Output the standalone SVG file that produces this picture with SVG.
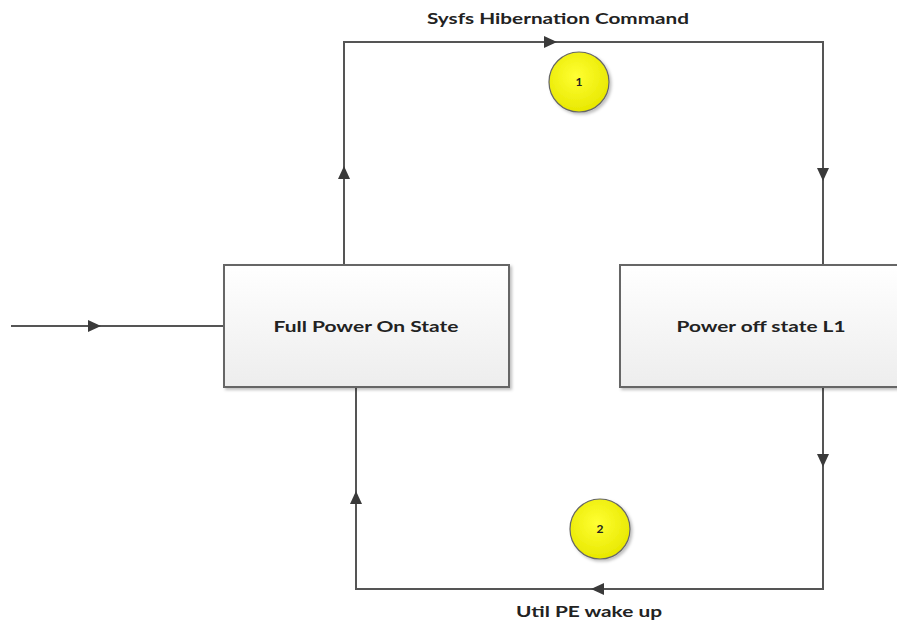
<svg xmlns="http://www.w3.org/2000/svg" width="897" height="623" viewBox="0 0 897 623">
<style>
.ln{stroke:#555;stroke-width:2;fill:none}
.ah{fill:#3a3a3a}
.box{fill:url(#bg);stroke:#666;stroke-width:2}
.cir{fill:url(#yg);stroke:#666;stroke-width:1.2}
.lbl{font-family:Lato,"Open Sans","Liberation Sans",sans-serif;font-weight:bold;fill:#222;font-size:16px;text-anchor:middle}
.num{font-family:Lato,"Liberation Sans",sans-serif;font-weight:bold;fill:#222;font-size:12px;text-anchor:middle}
</style>
<defs>
<linearGradient id="bg" x1="0" y1="0" x2="0" y2="1"><stop offset="0" stop-color="#ffffff"/><stop offset="1" stop-color="#ededed"/></linearGradient>
<radialGradient id="yg" cx="0.45" cy="0.4" r="0.6"><stop offset="0" stop-color="#ffff33"/><stop offset="1" stop-color="#e8e800"/></radialGradient>
<filter id="sh" x="-20%" y="-20%" width="150%" height="150%"><feDropShadow dx="2" dy="2" stdDeviation="1.5" flood-color="#000" flood-opacity="0.25"/></filter>
</defs>
<g id="connectors">
<polyline class="ln" points="11,326 224,326"/>
<polygon class="ah" points="101,326 88,320 88,332"/>
<polyline class="ln" points="344,265 344,42 823,42 823,265"/>
<polygon class="ah" points="344,166 338,179 350,179"/>
<polygon class="ah" points="557,42 544,36 544,48"/>
<polygon class="ah" points="823,181 817,168 829,168"/>
<polyline class="ln" points="823,387 823,589 356,589 356,387"/>
<polygon class="ah" points="823,467 817,454 829,454"/>
<polygon class="ah" points="591,589 604,583 604,595"/>
<polygon class="ah" points="356,491 350,504 362,504"/>
<text class="lbl" x="558" y="24" textLength="262" lengthAdjust="spacingAndGlyphs">Sysfs Hibernation Command</text>
<text class="lbl" x="589" y="617" textLength="146" lengthAdjust="spacingAndGlyphs">Util PE wake up</text>
</g>
<g id="node-full-power">
<rect class="box" x="224" y="265" width="285" height="122" filter="url(#sh)"/>
<text class="lbl" x="366" y="332" textLength="185" lengthAdjust="spacingAndGlyphs">Full Power On State</text>
</g>
<g id="node-power-off">
<rect class="box" x="620" y="265" width="285" height="122" filter="url(#sh)"/>
<text class="lbl" x="761" y="332" textLength="169" lengthAdjust="spacingAndGlyphs">Power off state L1</text>
</g>
<g id="node-1">
<circle class="cir" cx="579" cy="82" r="30" filter="url(#sh)"/>
<text class="num" x="579" y="86">1</text>
</g>
<g id="node-2">
<circle class="cir" cx="600" cy="529" r="30" filter="url(#sh)"/>
<text class="num" x="600" y="533">2</text>
</g>
</svg>
